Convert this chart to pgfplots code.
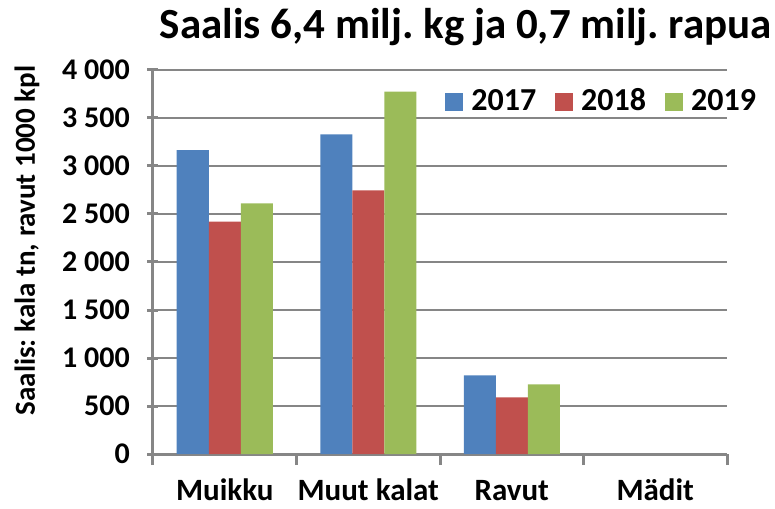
\documentclass[border=0pt]{standalone}
\usepackage{pgfplots}
\pgfplotsset{compat=1.18}
\usepackage{fontspec}
\setmainfont{Carlito}
\definecolor{c2017}{HTML}{4F81BD}
\definecolor{c2018}{HTML}{C0504D}
\definecolor{c2019}{HTML}{9BBB59}
\definecolor{axgray}{HTML}{868686}
\newcommand\fs[1]{\fontsize{#1}{#1}\selectfont\bfseries}
\begin{document}
\frenchspacing
\begin{tikzpicture}
\begin{axis}[
  at={(0pt,0pt)}, anchor=south west,
  scale only axis, width=574pt, height=384pt,
  ybar=0pt, bar width=32pt,
  xmin=-0.5, xmax=3.5, ymin=0, ymax=4000,
  xtick={-0.5,0.5,1.5,2.5,3.5}, xticklabels={},
  extra x ticks={0,1,2,3},
  extra x tick labels={Muikku, Muut kalat, Ravut, Mädit},
  extra x tick style={major tick length=0pt},
  x tick label style={font=\fs{31}, anchor=base, inner sep=0pt, yshift=-46pt},
  ytick={0,500,...,4000},
  scaled y ticks=false,
  y tick label style={font=\fs{30}, anchor=east, inner sep=0pt, xshift=-12pt,
    /pgf/number format/assume math mode=true,
    /pgf/number format/1000 sep={\ }},
  ymajorgrids, major grid style={axgray, line width=1.5pt},
  axis x line*=bottom, axis y line*=left,
  axis line style={axgray, line width=3pt},
  tick align=outside, major tick length=11pt,
  tick style={axgray, line width=3pt},
  ytick style={xshift=5.5pt},
  title={Saalis 6,4 milj. kg ja 0,7 milj. rapua},
  title style={at={(axis description cs:0.545,1)}, anchor=base, yshift=25pt, font=\fs{43}},
  ylabel={Saalis: kala tn, ravut 1000 kpl},
  ylabel style={at={(axis description cs:-0.2195,0.556)}, anchor=center, font=\fs{29}},
  legend columns=3,
  legend style={at={(axis description cs:0.509,0.917)}, anchor=west, draw=none, fill=none,
    inner sep=0pt, column sep=8pt, nodes={inner sep=0pt, text height=18pt, text depth=0pt},
    font=\fs{32},
    /tikz/every even column/.append style={column sep=19pt}},
  legend image code/.code={\fill[#1] (0pt,-9pt) rectangle (18pt,9pt);},
]
\addplot[fill=c2017, draw=none] coordinates {(0,3165) (1,3330) (2,820)};
\addlegendentry{2017}
\addplot[fill=c2018, draw=none] coordinates {(0,2420) (1,2745) (2,590)};
\addlegendentry{2018}
\addplot[fill=c2019, draw=none] coordinates {(0,2610) (1,3775) (2,725)};
\addlegendentry{2019}
\end{axis}
\pgfresetboundingbox
\path[use as bounding box] (-153pt,-54pt) rectangle (622pt,454pt);
\end{tikzpicture}
\end{document}
